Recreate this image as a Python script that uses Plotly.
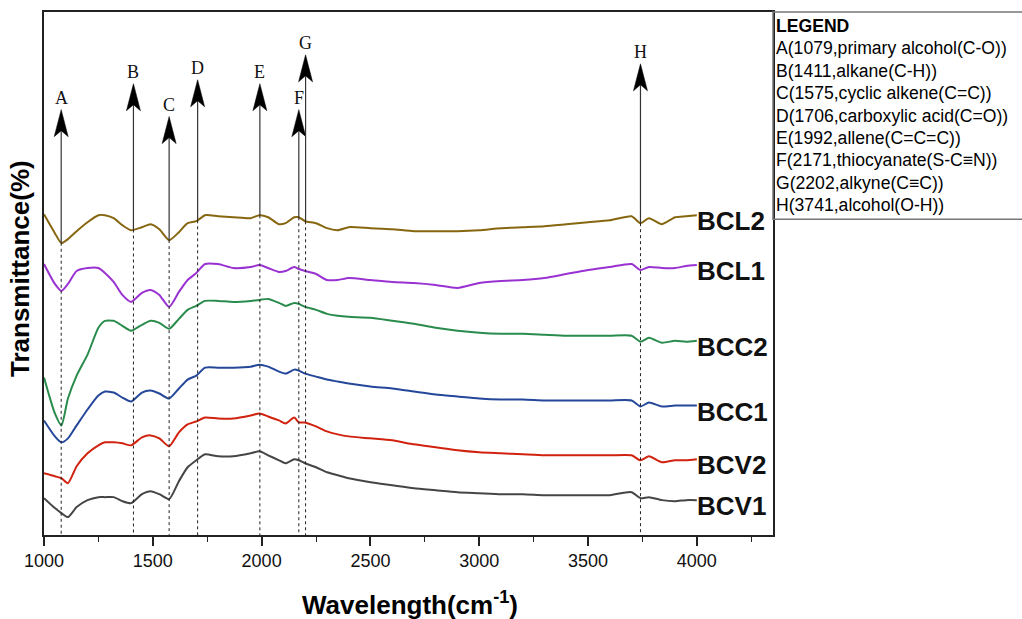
import numpy as np
import plotly.graph_objects as go

# ---------------- data ----------------
wavenumber = [1000, 1050, 1080, 1110, 1150, 1200, 1250, 1280, 1320, 1360, 1400, 1450, 1490, 1530,
              1575, 1620, 1660, 1700, 1740, 1800, 1870, 1950, 1990, 2030, 2080, 2110, 2150, 2171,
              2200, 2250, 2300, 2350, 2400, 2500, 2600, 2700, 2800, 2900, 3000, 3100, 3200, 3300,
              3400, 3500, 3600, 3700, 3741, 3780, 3840, 3900, 3950, 4000]

BCL2 = [322, 303, 293, 297, 305, 314, 321, 321, 318, 311, 306, 309, 312, 307,
        296, 304, 313, 315, 321, 320, 319, 318, 321, 319, 312, 313, 319, 319,
        315, 313, 308, 306, 309, 308, 307, 305, 305, 305, 306, 308, 309, 310,
        312, 314, 316, 320, 313, 318, 312, 319, 320, 321]

BCL1 = [272, 252, 245, 252, 265, 268, 268, 263, 254, 241, 234, 243, 246, 241,
        229, 244, 256, 263, 272, 272, 268, 269, 271, 268, 264, 265, 269, 267,
        265, 262, 256, 256, 258, 256, 254, 253, 251, 248, 253, 255, 256, 258,
        262, 266, 269, 272, 266, 269, 268, 268, 270, 271]

BCC2 = [158, 122, 110, 137, 160, 181, 208, 215, 215, 210, 205, 211, 215, 213,
        207, 217, 226, 230, 235, 235, 234, 235, 236, 237, 233, 230, 233, 232,
        229, 226, 222, 220, 219, 218, 215, 212, 208, 205, 203, 202, 202, 201,
        200, 200, 200, 200, 194, 198, 193, 195, 194, 195]

BCC1 = [115, 99, 93, 97, 110, 126, 140, 144, 143, 138, 134, 143, 145, 142,
        137, 147, 156, 160, 168, 168, 168, 169, 171, 169, 164, 162, 166, 165,
        162, 159, 156, 154, 152, 149, 147, 144, 141, 139, 137, 136, 136, 135,
        135, 135, 135, 135, 129, 133, 129, 130, 130, 130]

BCV2 = [62, 59, 57, 52, 69, 82, 90, 93, 93, 92, 90, 98, 100, 97,
        89, 103, 111, 114, 118, 117, 117, 120, 122, 119, 115, 112, 118, 113,
        113, 109, 104, 101, 99, 97, 95, 91, 88, 85, 83, 82, 81, 80,
        80, 80, 80, 80, 75, 79, 73, 75, 75, 76]

BCV1 = [37, 27, 22, 18, 28, 35, 38, 38, 38, 34, 32, 41, 44, 41,
        36, 54, 68, 75, 81, 79, 79, 82, 84, 80, 75, 72, 76, 75,
        72, 68, 63, 60, 57, 53, 50, 47, 45, 43, 42, 41, 41, 40,
        40, 40, 40, 43, 37, 38, 35, 34, 35, 35]

series_names = ["BCL2", "BCL1", "BCC2", "BCC1", "BCV2", "BCV1"]
series_values = [BCL2, BCL1, BCC2, BCC1, BCV2, BCV1]
series_colors = ["#86660f", "#9a32d2", "#2a8c4c", "#24479a", "#d0220e", "#454545"]

peak_letters = ["A", "B", "C", "D", "E", "F", "G", "H"]
peak_wn = [1079, 1411, 1575, 1706, 1992, 2171, 2202, 3741]
peak_groups = ["primary alcohol(C-O)", "alkane(C-H)", "cyclic alkene(C=C)",
               "carboxylic acid(C=O)", "allene(C=C=C)", "thiocyanate(S-C≡N)",
               "alkyne(C≡C)", "alcohol(O-H)"]
arrow_top = [427, 453, 420, 457, 453, 427, 482, 473]

x_ticks = [1000, 1500, 2000, 2500, 3000, 3500, 4000]

# ---------------- figure ----------------
fig = go.Figure()

for name, vals, col in zip(series_names, series_values, series_colors):
    fig.add_trace(go.Scatter(x=wavenumber, y=vals, mode="lines", name=name,
                             line=dict(color=col, width=2, shape="spline", smoothing=0.6),
                             showlegend=False, hoverinfo="skip"))
    fig.add_annotation(x=wavenumber[-1], y=vals[-1], text="<b>%s</b>" % name, showarrow=False,
                       xanchor="left", yanchor="middle", xshift=-2, yshift=-6,
                       font=dict(family="Liberation Sans, Arial, sans-serif", size=26, color="#111"))

shapes = []
for L, wn, top in zip(peak_letters, peak_wn, arrow_top):
    cut = float(np.interp(wn, wavenumber, BCL2))
    shapes.append(dict(type="line", xref="x", yref="y", x0=wn, x1=wn, y0=top - 20, y1=cut,
                       line=dict(color="#333", width=1.2)))
    shapes.append(dict(type="line", xref="x", yref="y", x0=wn, x1=wn, y0=cut, y1=0,
                       line=dict(color="#222", width=1, dash="3px,3px")))
    shapes.append(dict(type="path", xref="x", yref="y", xsizemode="pixel", ysizemode="pixel",
                       xanchor=wn, yanchor=top, path="M0,0 L7,-27 L0,-21 L-7,-27 Z",
                       fillcolor="black", line=dict(color="black", width=0.5)))
    fig.add_annotation(x=wn, y=top, text=L, showarrow=False, xanchor="center", yanchor="bottom",
                       yshift=0, font=dict(family="Liberation Serif, Times New Roman, serif",
                                           size=18, color="#111"))

# legend box
plot_w = 1022 - 44 - 249
shapes.append(dict(type="rect", xref="paper", yref="paper", x0=1.0, x1=(1022 - 44) / plot_w + 0.02,
                   y0=(535 - 218) / 525, y1=1.0, line=dict(color="#777", width=1.5),
                   fillcolor="rgba(0,0,0,0)"))

legend_lines = ["<b>LEGEND</b>"] + ["%s(%d,%s)" % (L, wn, g)
                                    for L, wn, g in zip(peak_letters, peak_wn, peak_groups)]
for i, t in enumerate(legend_lines):
    ypix = 24 + 22.5 * i
    fig.add_annotation(xref="paper", yref="paper", x=(774 - 44) / plot_w, y=(535 - ypix) / 525,
                       text=t, showarrow=False, xanchor="left", yanchor="middle",
                       font=dict(family="Liberation Sans, Arial, sans-serif", size=17.6, color="#000"))

# axis titles
fig.add_annotation(xref="paper", yref="paper", x=(20 - 44) / plot_w, y=(535 - 268) / 525,
                   text="<b>Transmittance(%)</b>", textangle=-90, showarrow=False,
                   xanchor="center", yanchor="middle",
                   font=dict(family="Liberation Sans, Arial, sans-serif", size=26, color="#000"))
fig.add_annotation(xref="paper", yref="paper", x=(410 - 44) / plot_w, y=(535 - 604) / 525,
                   text="<b>Wavelength(cm<sup>-1</sup>)</b>", showarrow=False,
                   xanchor="center", yanchor="middle",
                   font=dict(family="Liberation Sans, Arial, sans-serif", size=26, color="#000"))

fig.update_layout(
    width=1022, height=619,
    margin=dict(l=44, r=249, t=10, b=84),
    paper_bgcolor="white", plot_bgcolor="white",
    showlegend=False,
    shapes=shapes,
    xaxis=dict(range=[1000, 4350], tickvals=x_ticks, ticks="outside", ticklen=9, tickwidth=1.5,
               tickcolor="#222", showgrid=False, zeroline=False, showline=True, linecolor="#222",
               linewidth=1.5, mirror=True,
               minor=dict(dtick=250, tick0=1000, ticks="outside", ticklen=5, tickwidth=1.2,
                          tickcolor="#222", showgrid=False),
               tickfont=dict(family="Liberation Sans, Arial, sans-serif", size=18, color="#111")),
    yaxis=dict(range=[0, 525], showticklabels=False, ticks="", showgrid=False, zeroline=False,
               showline=True, linecolor="#222", linewidth=2, mirror=True),
)

fig.write_html("out.html", config={"displayModeBar": False},
               post_script="document.body.style.margin='0';document.body.style.overflow='hidden';")
